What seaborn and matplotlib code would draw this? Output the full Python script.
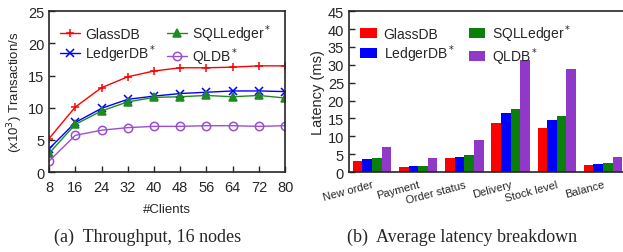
import numpy as np
import pandas as pd
import matplotlib
matplotlib.use("Agg")
import matplotlib.pyplot as plt
import seaborn as sns

# throughput vs clients
clients = [8, 16, 24, 32, 40, 48, 56, 64, 72, 80]
glassdb_tp = [5.2, 10.1, 13.1, 14.8, 15.7, 16.2, 16.2, 16.3, 16.5, 16.5]
ledgerdb_tp = [3.6, 7.7, 9.9, 11.3, 11.8, 12.2, 12.4, 12.6, 12.6, 12.5]
sqlledger_tp = [2.9, 7.4, 9.5, 10.9, 11.6, 11.7, 11.9, 11.7, 11.9, 11.5]
qldb_tp = [1.7, 5.7, 6.5, 6.9, 7.1, 7.1, 7.2, 7.2, 7.1, 7.2]

# latency breakdown
txn_types = ["New order", "Payment", "Order status", "Delivery", "Stock level", "Balance"]
glassdb_lat = [3.2, 1.5, 3.9, 13.8, 12.4, 2.0]
ledgerdb_lat = [3.7, 1.8, 4.3, 16.4, 14.5, 2.3]
sqlledger_lat = [3.9, 1.8, 4.7, 17.5, 15.8, 2.4]
qldb_lat = [6.9, 3.9, 9.1, 31.3, 28.7, 4.2]

systems = ["GlassDB", "LedgerDB$^*$", "SQLLedger$^*$", "QLDB$^*$"]
line_colors = ["#ff0000", "#0000ff", "#1f8a1f", "#9b4fd0"]
bar_colors = ["#ff0000", "#0000ff", "#0a7f0a", "#9038c8"]

sns.set_style("ticks")
plt.rcParams["font.family"] = ["Liberation Sans", "DejaVu Sans"]
plt.rcParams["xtick.direction"] = "in"
plt.rcParams["ytick.direction"] = "in"

fig = plt.figure(figsize=(6.23, 2.53), dpi=100)
ax1 = fig.add_axes([0.0787, 0.316, 0.379, 0.636])
ax2 = fig.add_axes([0.560, 0.316, 0.445, 0.636])

# (a) throughput
series = [glassdb_tp, ledgerdb_tp, sqlledger_tp, qldb_tp]
markers = ["+", "x", "^", "o"]
for name, vals, c, m in zip(systems, series, line_colors, markers):
    mfc = "none" if m == "o" else c
    sns.lineplot(x=clients, y=vals, ax=ax1, color=c, marker=m, markersize=6,
                 markerfacecolor=mfc, markeredgecolor=c, markeredgewidth=1.1,
                 linewidth=1.0, label=name)
ax1.set_xlim(8, 80)
ax1.set_ylim(0, 25)
ax1.set_xticks(clients)
ax1.set_yticks([0, 5, 10, 15, 20, 25])
ax1.tick_params(labelsize=10.5, length=4, width=1)
ax1.tick_params(axis="x", pad=6)
ax1.set_xlabel("#Clients", fontsize=9.5, labelpad=6)
ax1.set_ylabel("(x10$^3$) Transaction/s", fontsize=9.5, labelpad=2)
ax1.legend(ncol=2, frameon=False, loc="upper left", fontsize=10,
           handlelength=1.4, columnspacing=0.8, handletextpad=0.4,
           labelspacing=0.1, borderaxespad=0.3, borderpad=0.5)
for s in ax1.spines.values():
    s.set_linewidth(1.2)

# (b) latency
df = pd.DataFrame({
    "txn": txn_types * 4,
    "system": np.repeat(systems, len(txn_types)),
    "latency": glassdb_lat + ledgerdb_lat + sqlledger_lat + qldb_lat,
})
sns.barplot(data=df, x="txn", y="latency", hue="system", palette=bar_colors,
            width=0.83, ax=ax2, saturation=1, linewidth=0)
ax2.set_xlim(-0.5, 5.5)
ax2.set_ylim(0, 45)
ax2.set_yticks(range(0, 50, 5))
ax2.tick_params(axis="y", labelsize=10.5, length=4, width=1)
ax2.tick_params(axis="x", length=0, labelsize=8, pad=5)
for lbl in ax2.get_xticklabels():
    lbl.set_rotation(15)
    lbl.set_ha("right")
    lbl.set_rotation_mode("anchor")
ax2.set_xlabel("")
ax2.set_ylabel("Latency (ms)", fontsize=10.5, labelpad=2)
ax2.legend(ncol=2, frameon=False, loc="upper left", fontsize=10,
           handlelength=1.2, handleheight=0.8, columnspacing=1.0,
           handletextpad=0.5, labelspacing=0.1, borderaxespad=0.3, borderpad=0.5)
for s in ax2.spines.values():
    s.set_linewidth(1.2)

# captions
serif = ["Liberation Serif", "DejaVu Serif"]
fig.text(0.237, 0.045, "(a)  Throughput, 16 nodes", ha="center", fontsize=13,
         family=serif)
fig.text(0.742, 0.045, "(b)  Average latency breakdown", ha="center", fontsize=13,
         family=serif)

fig.savefig("out.png", dpi=100)
